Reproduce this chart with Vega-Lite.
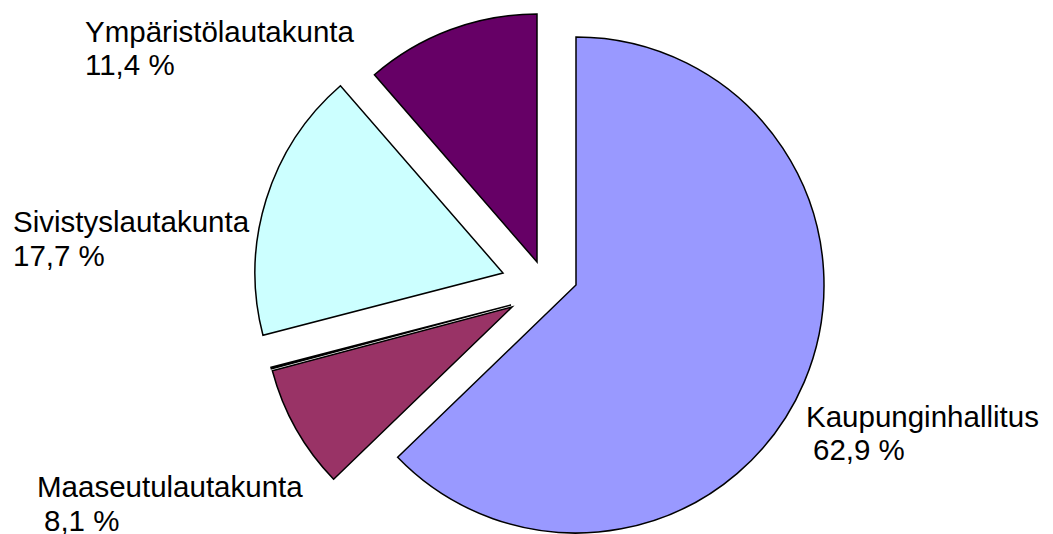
{
  "$schema": "https://vega.github.io/schema/vega-lite/v6.json",
  "width": 1053,
  "height": 534,
  "padding": 0,
  "autosize": "none",
  "background": "white",
  "view": {"stroke": null},
  "data": {
    "values": [
      {"category": "Kaupunginhallitus", "value": 62.9, "pct": "62,9 %"},
      {"category": "Maaseutulautakunta", "value": 8.1, "pct": "8,1 %"},
      {"category": "Muut", "value": 0.1, "pct": ""},
      {"category": "Sivistyslautakunta", "value": 17.7, "pct": "17,7 %"},
      {"category": "Ympäristölautakunta", "value": 11.4, "pct": "11,4 %"}
    ]
  },
  "layer": [
    {
      "mark": {"type": "arc", "outerRadius": 248, "stroke": "black", "strokeWidth": 1.5, "strokeJoin": "miter"},
      "encoding": {
        "theta": {"field": "value", "type": "quantitative", "stack": true},
        "color": {
          "field": "category",
          "type": "nominal",
          "scale": {
            "domain": ["Kaupunginhallitus", "Maaseutulautakunta", "Muut", "Sivistyslautakunta", "Ympäristölautakunta"],
            "range": ["#9999FF", "#993366", "#FFFFFF", "#CCFFFF", "#660066"]
          },
          "legend": null
        },
        "x": {
          "field": "value",
          "type": "quantitative",
          "scale": {"domain": [0.1, 8.1, 11.4, 17.7, 62.9], "range": [511, 512, 537, 503, 576], "zero": false, "nice": false},
          "axis": null
        },
        "y": {
          "field": "value",
          "type": "quantitative",
          "scale": {"domain": [0.1, 8.1, 11.4, 17.7, 62.9], "range": [305, 307, 262, 273, 285], "zero": false, "nice": false},
          "axis": null
        }
      }
    },
    {
      "transform": [{"filter": "datum.value > 1"}],
      "mark": {"type": "text", "align": "left", "baseline": "alphabetic", "font": "Liberation Sans", "fontSize": 29.5, "color": "black"},
      "encoding": {
        "text": {"field": "category", "type": "nominal"},
        "x": {
          "field": "value",
          "type": "quantitative",
          "scale": {"domain": [8.1, 11.4, 17.7, 62.9], "range": [37, 85, 13, 806], "zero": false, "nice": false},
          "axis": null
        },
        "y": {
          "field": "value",
          "type": "quantitative",
          "scale": {"domain": [8.1, 11.4, 17.7, 62.9], "range": [497, 42, 232, 427], "zero": false, "nice": false},
          "axis": null
        }
      }
    },
    {
      "transform": [{"filter": "datum.value > 1"}],
      "mark": {"type": "text", "align": "left", "baseline": "alphabetic", "font": "Liberation Sans", "fontSize": 29.5, "color": "black"},
      "encoding": {
        "text": {"field": "pct", "type": "nominal"},
        "x": {
          "field": "value",
          "type": "quantitative",
          "scale": {"domain": [8.1, 11.4, 17.7, 62.9], "range": [44, 85, 13, 813], "zero": false, "nice": false},
          "axis": null
        },
        "y": {
          "field": "value",
          "type": "quantitative",
          "scale": {"domain": [8.1, 11.4, 17.7, 62.9], "range": [531, 75, 266, 460], "zero": false, "nice": false},
          "axis": null
        }
      }
    }
  ],
  "resolve": {"scale": {"x": "independent", "y": "independent"}}
}
